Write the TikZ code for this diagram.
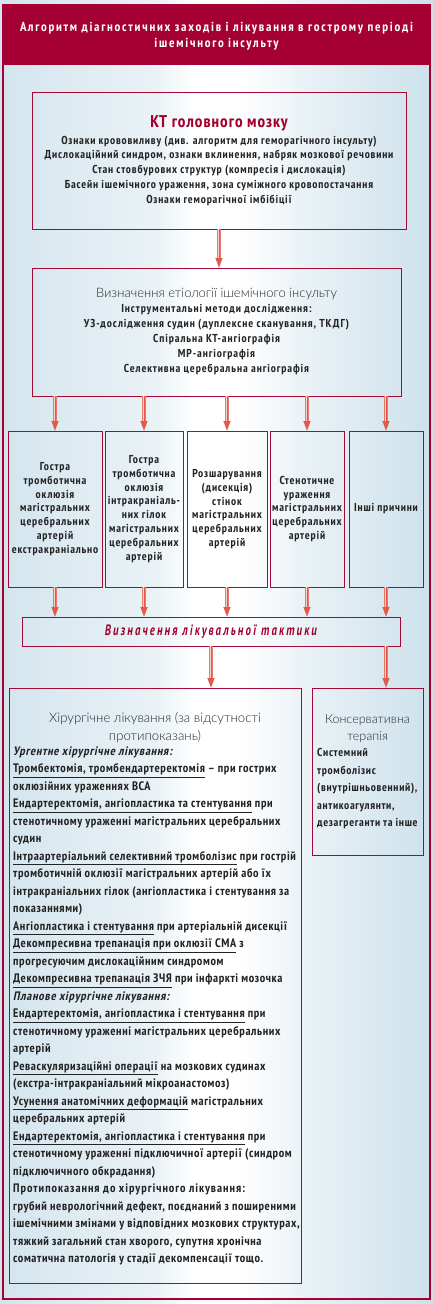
\documentclass[tikz,border=0pt]{standalone}
\usepackage{fontspec}
\usetikzlibrary{arrows.meta}
\setmainfont{PT Sans}
\newfontfamily\nb{PT Sans Narrow Bold}[LetterSpace=7]
\newfontfamily\nbc{PT Sans Narrow Bold}[LetterSpace=6]
\newfontfamily\nbg{PT Sans Narrow Bold}[LetterSpace=5]
\newfontfamily\nbe{PT Sans Narrow Bold}[LetterSpace=8]
\newfontfamily\nbi{PT Sans Narrow Bold}[FakeSlant=0.2,LetterSpace=6]
\newfontfamily\nbs{PT Sans Narrow Bold}[LetterSpace=8]
\newfontfamily\tb{PT Sans Narrow Bold}[LetterSpace=13.5]
\newfontfamily\redt{PT Sans Narrow Bold}[LetterSpace=6]
\newfontfamily\tact{PT Sans Bold Italic}[FakeStretch=0.72,LetterSpace=14]
\IfFontExistsTF{Lato Light}{\newfontfamily\lt{Lato Light}}{\newfontfamily\lt{PT Sans}}
\newcommand\myul[1]{\underline{#1}}
\definecolor{crim}{RGB}{165,0,52}
\definecolor{boxc}{RGB}{165,10,55}
\definecolor{bgL}{RGB}{212,229,238}
\definecolor{bgM}{RGB}{234,242,246}
\definecolor{bgR}{RGB}{205,225,235}
\definecolor{txt}{RGB}{35,35,35}
\definecolor{lttxt}{RGB}{40,40,40}
\definecolor{redtxt}{RGB}{160,0,45}
\definecolor{arrowc}{RGB}{228,88,72}
\definecolor{shaftin}{RGB}{250,210,205}
\pgfdeclarehorizontalshading{bgsh}{100bp}{color(0bp)=(bgL); color(25bp)=(bgL); color(43bp)=(bgM); color(47.5bp)=(white); color(52.5bp)=(white); color(60bp)=(bgM); color(75bp)=(bgR); color(100bp)=(bgR)}
\tikzset{
  bx/.style={draw=boxc, line width=0.9pt, inner sep=0pt, text=txt},
  shaft/.style={draw=arrowc!80!white, line width=0.8pt, double=shaftin, double distance=2.2pt, shorten >=8pt},
  ahead/.style={draw=arrowc, line width=0.2pt, -{Triangle[width=7pt,length=9.5pt,fill=arrowc]}},
  body/.style={font=\nb\fontsize{11.5}{13.8}\selectfont, align=center, text=txt},
}
\newcommand\conn[2]{\draw[shaft] #1 -- #2; \draw[ahead] #1 -- #2;}
\begin{document}
\begin{tikzpicture}[x=1pt,y=-1pt]
\useasboundingbox (0,0) rectangle (433,1304);
\shade[shading=bgsh] (0,0) rectangle (433,1304);
% title band and frame
\fill[crim] (2,4) rectangle (431,65);
\draw[crim, line width=1.2pt] (3,65) -- (3,1299) -- (430,1299) -- (430,65);
\node[text=white, align=center, font=\tb\fontsize{13}{16}\selectfont] (title) at (216.5,36)
  {Алгоритм діагностичних заходів і лікування в гострому періоді\\ішемічного інсульту};
% CT box
\node[bx, minimum width=374, minimum height=137, align=center, font=\nb\fontsize{11.5}{14.7}\selectfont] (ct) at (219,160.5)
  {{\redt\color{redtxt}\fontsize{17}{17}\selectfont КТ головного мозку}\\[2pt]
   Ознаки крововиливу (див. алгоритм для геморагічного інсульту)\\
   Дислокаційний синдром, ознаки вклинення, набряк мозкової речовини\\
   Стан стовбурових структур (компресія і дислокація)\\
   Басейн ішемічного ураження, зона суміжного кровопостачання\\
   Ознаки геморагічної імбібіції};
% etiology box
\node[bx, minimum width=369, minimum height=128, align=center, font=\nbe\fontsize{11.5}{15}\selectfont] (eti) at (216.5,332)
  {{\lt\color{lttxt}\fontsize{13}{14}\selectfont Визначення етіології ішемічного інсульту}\\
   Інструментальні методи дослідження:\\
   УЗ-дослідження судин (дуплексне сканування, ТКДГ)\\
   Спіральна КТ-ангіографія\\
   МР-ангіографія\\
   Селективна церебральна ангіографія};
% five cause boxes
\node[bx, body, minimum width=94, minimum height=156] (b1) at (55,509)
  {Гостра\\тромботична\\оклюзія\\магістральних\\церебральних\\артерій\\екстракраніально};
\node[bx, body, minimum width=78, minimum height=156] (b2) at (144,509)
  {Гостра\\тромботична\\оклюзія\\інтракраніаль-\\них гілок\\магістральних\\церебральних\\артерій};
\node[bx, body, minimum width=80, minimum height=156] (b3) at (227,509)
  {Розшарування\\(дисекція)\\стінок\\магістральних\\церебральних\\артерій};
\node[bx, body, minimum width=74, minimum height=156] (b4) at (307,509)
  {Стенотичне\\ураження\\магістральних\\церебральних\\артерій};
\node[bx, body, minimum width=74, minimum height=156] (b5) at (386,509)
  {Інші причини};
% tactic box
\node[bx, minimum width=378, minimum height=29, text=redtxt, font=\tact\fontsize{15}{15}\selectfont] (tac) at (211,631.5)
  {Визначення лікувальної тактики};
% surgery and conservative boxes
\node[bx, minimum width=292, minimum height=595] (surg) at (155,985.5) {};
\node[bx, minimum width=111, minimum height=167] (cons) at (367.5,771.5) {};
\node[align=center, text=lttxt, font=\lt\fontsize{13.2}{18}\selectfont] (surgt) at (155,728)
  {Хірургічне лікування (за відсутності\\протипоказань)};
\node[anchor=north west, inner sep=0pt, align=left, text=txt, font=\nbg\fontsize{12.3}{17.5}\selectfont] (surgb) at (13,746.5)
  {{\nbi Ургентне хірургічне лікування:}\\
   \myul{Тромбектомія, тромбендартеректомія} – при гострих\\
   оклюзійних ураженнях ВСА\\
   \myul{Ендартеректомія, ангіопластика та стентування} при\\
   стенотичному ураженні магістральних церебральних\\
   судин\\
   \myul{Інтраартеріальний селективний тромболізис} при гострій\\
   тромботичній оклюзії магістральних артерій або їх\\
   інтракраніальних гілок (ангіопластика і стентування за\\
   показаннями)\\
   \myul{Ангіопластика і стентування} при артеріальній дисекції\\
   \myul{Декомпресивна трепанація при оклюзії СМА} з\\
   прогресуючим дислокаційним синдромом\\
   \myul{Декомпресивна трепанація ЗЧЯ} при інфаркті мозочка\\
   {\nbi Планове хірургічне лікування:}\\
   \myul{Ендартеректомія, ангіопластика і стентування} при\\
   стенотичному ураженні магістральних церебральних\\
   артерій\\
   \myul{Реваскуляризаційні операції} на мозкових судинах\\
   (екстра-інтракраніальний мікроанастомоз)\\
   \myul{Усунення анатомічних деформацій} магістральних\\
   церебральних артерій\\
   \myul{Ендартеректомія, ангіопластика і стентування} при\\
   стенотичному ураженні підключичної артерії (синдром\\
   підключичного обкрадання)\\
   {\nbs Протипоказання до хірургічного лікування:}\\
   грубий неврологічний дефект, поєднаний з поширеними\\
   ішемічними змінами у відповідних мозкових структурах,\\
   тяжкий загальний стан хворого, супутня хронічна\\
   соматична патологія у стадії декомпенсації тощо.};
\node[align=center, text=lttxt, font=\lt\fontsize{12.5}{17}\selectfont] (const) at (367.5,729)
  {Консервативна\\терапія};
\node[anchor=north west, inner sep=0pt, align=left, text=txt, font=\nbc\fontsize{11.5}{17.5}\selectfont] (consb) at (317,748.5)
  {Системний\\тромболізис\\(внутрішньовенний),\\антикоагулянти,\\дезагреганти та інше};
% connectors
\conn{(ct.south)}{(eti.north -| ct.south)}
\conn{(eti.south -| b1.north)}{(b1.north)}
\conn{(eti.south -| b2.north)}{(b2.north)}
\conn{(eti.south -| b3.north)}{(b3.north)}
\conn{(eti.south -| b4.north)}{(b4.north)}
\conn{(eti.south -| b5.north)}{(b5.north)}
\conn{(b1.south)}{(tac.north -| b1.south)}
\conn{(b2.south)}{(tac.north -| b2.south)}
\conn{(b3.south)}{(tac.north -| b3.south)}
\conn{(b4.south)}{(tac.north -| b4.south)}
\conn{(b5.south)}{(tac.north -| b5.south)}
\conn{(tac.south)}{(surg.north -| tac.south)}
\conn{(tac.south -| b5.south)}{(cons.north -| b5.south)}
\end{tikzpicture}
\end{document}
